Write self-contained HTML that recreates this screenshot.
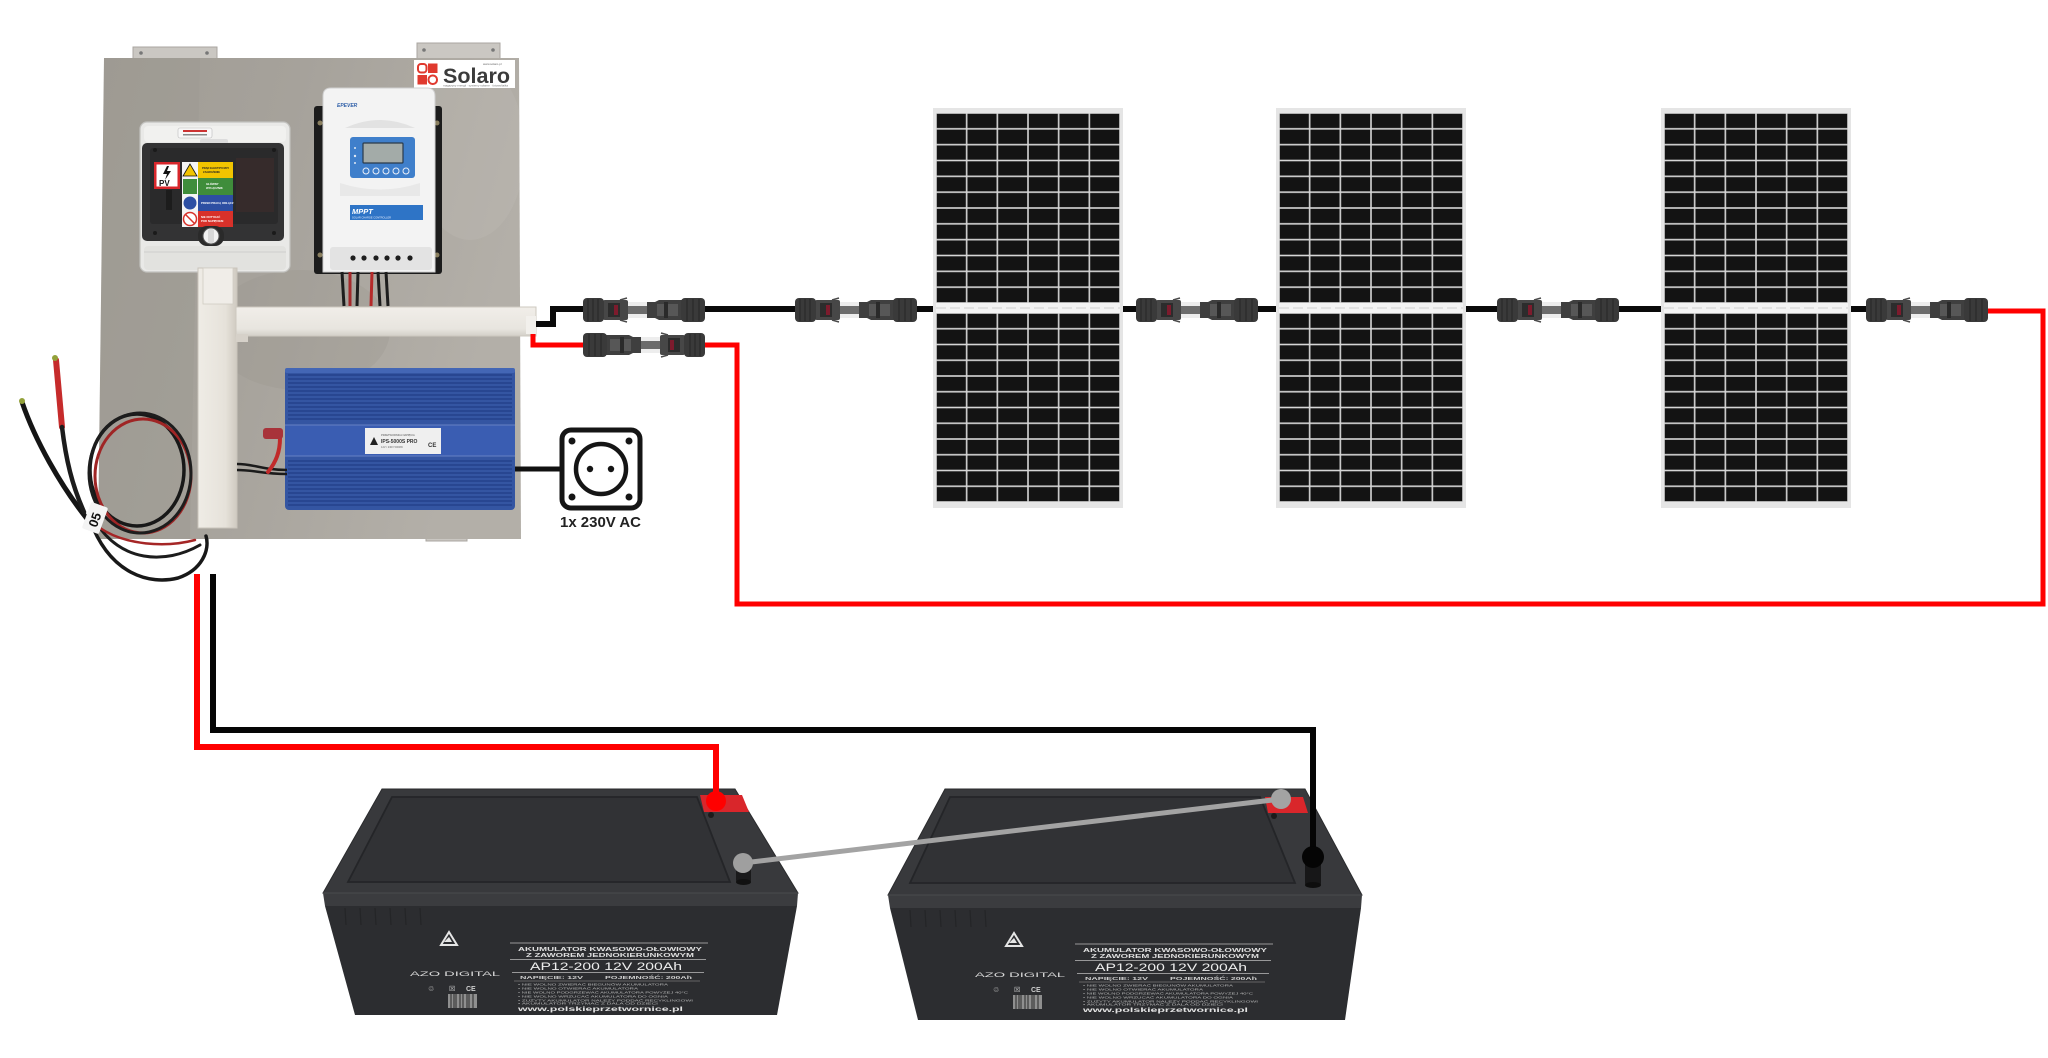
<!DOCTYPE html>
<html>
<head>
<meta charset="utf-8">
<style>
  html,body{margin:0;padding:0;background:#fff;}
  body{width:2048px;height:1058px;overflow:hidden;}
  svg{display:block;}
  text{font-family:"Liberation Sans", sans-serif;}
</style>
</head>
<body>
<svg width="2048" height="1058" viewBox="0 0 2048 1058" xmlns="http://www.w3.org/2000/svg">
  <defs>
    <linearGradient id="plateG" x1="0" y1="0" x2="1" y2="0.3">
      <stop offset="0" stop-color="#a09c95"/>
      <stop offset="0.45" stop-color="#a6a29b"/>
      <stop offset="1" stop-color="#b3afa8"/>
    </linearGradient>
    <clipPath id="plateClip">
      <polygon points="104,58 519,58 521,539 98,539"/>
    </clipPath>
    <linearGradient id="trunkV" x1="0" y1="0" x2="1" y2="0">
      <stop offset="0" stop-color="#efece6"/>
      <stop offset="0.7" stop-color="#e6e2da"/>
      <stop offset="1" stop-color="#cfcac1"/>
    </linearGradient>
    <linearGradient id="trunkH" x1="0" y1="0" x2="0" y2="1">
      <stop offset="0" stop-color="#f1eee9"/>
      <stop offset="0.75" stop-color="#e8e5df"/>
      <stop offset="1" stop-color="#d3cfc8"/>
    </linearGradient>
    <pattern id="cellsA" patternUnits="userSpaceOnUse" x="3" y="5" width="30.667" height="15.833">
      <rect width="30.667" height="15.833" fill="#d6d6d6"/>
      <rect x="0.8" y="0.8" width="29.07" height="14.23" fill="#131313"/>
    </pattern>
    <pattern id="cellsB" patternUnits="userSpaceOnUse" x="3" y="205" width="30.667" height="15.75">
      <rect width="30.667" height="15.75" fill="#d6d6d6"/>
      <rect x="0.8" y="0.8" width="29.07" height="14.15" fill="#131313"/>
    </pattern>
    <g id="panel">
      <rect x="0" y="0" width="190" height="400" fill="#e5e5e5"/>
      <rect x="3" y="5" width="184" height="190" fill="url(#cellsA)"/>
      <rect x="3" y="195" width="184" height="10" fill="#f3f3f3"/>
      <line x1="3" y1="200" x2="187" y2="200" stroke="#cfcfcf" stroke-width="1" stroke-dasharray="10 4"/>
      <rect x="3" y="205" width="184" height="189" fill="url(#cellsB)"/>
    </g>
    <g id="conn">
      <rect x="43" y="-8" width="26" height="16" fill="#ededed"/>
      <rect x="20" y="-10" width="25" height="20" rx="2" fill="#474747"/>
      <rect x="25" y="-7" width="12" height="14" fill="#2c2c2c"/>
      <rect x="31" y="-5" width="4" height="10" fill="#7d1b2d"/>
      <path d="M37 -10 l7 -2 M37 10 l7 2" stroke="#4a4a4a" stroke-width="1.5"/>
      <rect x="45" y="-4" width="21" height="8" fill="#6c6c6c"/>
      <path d="M64 -8 H72 L76 -10 H99 V10 H76 L72 8 H64 Z" fill="#3f3f3f"/>
      <rect x="74" y="-6" width="21" height="12" fill="#575757"/>
      <rect x="81" y="-8" width="4" height="16" fill="#2a2a2a"/>
      <rect x="0" y="-12" width="21" height="24" rx="4" fill="#3a3a3a"/>
      <path d="M5 -11 V11 M10 -11 V11 M15 -11 V11" stroke="#2a2a2a" stroke-width="1.2"/>
      <rect x="98" y="-12" width="24" height="24" rx="4" fill="#3a3a3a"/>
      <path d="M104 -11 V11 M110 -11 V11 M116 -11 V11" stroke="#2a2a2a" stroke-width="1.2"/>
    </g>
    <g id="batlabel">
      <polygon points="441,945 449,932 457,945" fill="none" stroke="#e6e6e6" stroke-width="2"/>
      <polygon points="444,942 452,942 449,937" fill="#e6e6e6"/>
      <text x="410" y="976" font-size="6" fill="#d8d8d8" textLength="90" lengthAdjust="spacingAndGlyphs">AZO DIGITAL</text>
      <text x="428" y="991" font-size="7" fill="#cfcfcf">♲</text>
      <text x="449" y="991" font-size="7" fill="#cfcfcf">☒</text>
      <text x="466" y="991" font-size="7" fill="#cfcfcf" font-weight="bold">CE</text>
      <rect x="448" y="994" width="29" height="14" fill="#8f8f8f"/>
      <path d="M451 994 V1008 M454 994 V1008 M456 994 V1008 M460 994 V1008 M463 994 V1008 M467 994 V1008 M469 994 V1008 M473 994 V1008" stroke="#3a3a3a" stroke-width="1.2"/>
      <line x1="510" y1="943" x2="708" y2="943" stroke="#bdbdbd" stroke-width="0.8"/>
      <text x="518" y="951" font-size="5.5" fill="#e0e0e0" font-weight="bold" textLength="184" lengthAdjust="spacingAndGlyphs">AKUMULATOR KWASOWO-OŁOWIOWY</text>
      <text x="526" y="957" font-size="5.5" fill="#e0e0e0" font-weight="bold" textLength="168" lengthAdjust="spacingAndGlyphs">Z ZAWOREM JEDNOKIERUNKOWYM</text>
      <line x1="510" y1="959.5" x2="706" y2="959.5" stroke="#bdbdbd" stroke-width="0.8"/>
      <text x="530" y="970" font-size="11" fill="#ededed" textLength="152" lengthAdjust="spacingAndGlyphs">AP12-200 12V 200Ah</text>
      <line x1="512" y1="972.5" x2="704" y2="972.5" stroke="#bdbdbd" stroke-width="0.8"/>
      <text x="520" y="979" font-size="4.5" fill="#d0d0d0" font-weight="bold" textLength="63" lengthAdjust="spacingAndGlyphs">NAPIĘCIE: 12V</text>
      <text x="605" y="979" font-size="4.5" fill="#d0d0d0" font-weight="bold" textLength="87" lengthAdjust="spacingAndGlyphs">POJEMNOŚĆ: 200Ah</text>
      <line x1="514" y1="981" x2="700" y2="981" stroke="#9a9a9a" stroke-width="0.6"/>
      <text x="518" y="985.5" font-size="3" fill="#bdbdbd" textLength="150" lengthAdjust="spacingAndGlyphs">• NIE WOLNO ZWIERAĆ BIEGUNÓW AKUMULATORA</text>
      <text x="518" y="989.5" font-size="3" fill="#bdbdbd" textLength="120" lengthAdjust="spacingAndGlyphs">• NIE WOLNO OTWIERAĆ AKUMULATORA</text>
      <text x="518" y="993.5" font-size="3" fill="#bdbdbd" textLength="170" lengthAdjust="spacingAndGlyphs">• NIE WOLNO PODGRZEWAĆ AKUMULATORA POWYŻEJ 40°C</text>
      <text x="518" y="997.5" font-size="3" fill="#bdbdbd" textLength="150" lengthAdjust="spacingAndGlyphs">• NIE WOLNO WRZUCAĆ AKUMULATORA DO OGNIA</text>
      <text x="518" y="1001.5" font-size="3" fill="#bdbdbd" textLength="175" lengthAdjust="spacingAndGlyphs">• ZUŻYTY AKUMULATOR NALEŻY PODDAĆ RECYKLINGOWI</text>
      <text x="518" y="1004.5" font-size="3" fill="#bdbdbd" textLength="140" lengthAdjust="spacingAndGlyphs">• AKUMULATOR TRZYMAĆ Z DALA OD DZIECI</text>
      <text x="518" y="1011" font-size="6.5" fill="#e2e2e2" font-weight="bold" textLength="165" lengthAdjust="spacingAndGlyphs">www.polskieprzetwornice.pl</text>
    </g>
  </defs>

  <rect width="2048" height="1058" fill="#ffffff"/>

  <!-- ================= BACKPLATE ================= -->
  <rect x="133" y="47" width="84" height="13" fill="#cac7c2" stroke="#a9a6a0" stroke-width="1"/>
  <circle cx="141" cy="53" r="1.8" fill="#777"/><circle cx="207" cy="53" r="1.8" fill="#777"/>
  <rect x="417" y="43" width="83" height="17" fill="#cac7c2" stroke="#a9a6a0" stroke-width="1"/>
  <circle cx="424" cy="50" r="1.8" fill="#777"/><circle cx="493" cy="50" r="1.8" fill="#777"/>
  <rect x="426" y="528" width="41" height="13" fill="#cac7c2" stroke="#a9a6a0" stroke-width="1"/>
  <circle cx="432" cy="536" r="1.8" fill="#777"/><circle cx="461" cy="536" r="1.8" fill="#777"/>
  <polygon points="104,58 519,58 521,539 98,539" fill="url(#plateG)"/>
  <g clip-path="url(#plateClip)">
    <polygon points="104,58 200,58 190,539 98,539" fill="#9b978f" opacity="0.35"/>
    <ellipse cx="470" cy="150" rx="55" ry="90" fill="#c0bcb5" opacity="0.3"/>
    <ellipse cx="300" cy="330" rx="90" ry="60" fill="#98938b" opacity="0.25"/>
  </g>

  <!-- Solaro logo -->
  <rect x="414" y="60" width="101" height="28" fill="#ffffff"/>
  <rect x="418" y="64" width="8.5" height="8.5" rx="3" fill="none" stroke="#e0392e" stroke-width="2"/>
  <rect x="428" y="63.5" width="9.5" height="9.5" fill="#e0392e"/>
  <rect x="417.5" y="75" width="9.5" height="9.5" fill="#e0392e"/>
  <rect x="428.5" y="75.5" width="8.5" height="8.5" rx="4" fill="none" stroke="#e0392e" stroke-width="2"/>
  <text x="443" y="83" font-size="21" font-weight="bold" fill="#3b3b3b" textLength="67" lengthAdjust="spacingAndGlyphs">Solaro</text>
  <text x="483" y="65" font-size="3" fill="#666">www.solaro.pl</text>
  <text x="443" y="86.5" font-size="2.5" fill="#777" textLength="65" lengthAdjust="spacingAndGlyphs">magazyny energii · systemy solarne · fotowoltaika</text>

  <!-- DC isolator box -->
  <rect x="140" y="122" width="150" height="150" rx="7" fill="#e9e9e7" stroke="#c2c2bf" stroke-width="1.2"/>
  <rect x="144" y="126" width="142" height="16" rx="4" fill="#f1f1ef"/>
  <rect x="178" y="128" width="34" height="10" rx="2" fill="#f7f7f7" stroke="#bbb" stroke-width="0.6"/>
  <rect x="183" y="130" width="24" height="2" fill="#c33"/>
  <rect x="183" y="134" width="24" height="1.5" fill="#888"/>
  <rect x="200" y="139" width="28" height="6" rx="2" fill="#dcdcdc"/>
  <rect x="142" y="143" width="142" height="98" rx="5" fill="#333334"/>
  <rect x="150" y="148" width="128" height="76" rx="3" fill="#2a2a2b"/>
  <rect x="236" y="158" width="38" height="54" fill="#3a2c2c" opacity="0.8"/>
  <rect x="166" y="190" width="6" height="20" fill="#1c1c1c"/>
  <rect x="154" y="162" width="26" height="27" fill="#d7262b"/>
  <rect x="156.5" y="164.5" width="21" height="22" fill="#ffffff"/>
  <path d="M167 166 L163 174 H167 L165 180 L171 171 H167 L169 166 Z" fill="#111"/>
  <text x="159" y="186" font-size="8" font-weight="bold" fill="#111">PV</text>
  <rect x="182" y="162" width="16" height="65" fill="#f4f4f4"/>
  <rect x="198" y="162" width="35" height="16" fill="#f2c400"/>
  <rect x="198" y="178" width="35" height="17" fill="#3f8d3b"/>
  <rect x="198" y="195" width="35" height="16" fill="#2d4fa3"/>
  <rect x="198" y="211" width="35" height="16" fill="#d8312a"/>
  <polygon points="190,164 183,176 197,176" fill="#f2c400" stroke="#111" stroke-width="0.8"/>
  <rect x="183" y="179" width="14" height="15" fill="#3f8d3b"/>
  <circle cx="190" cy="203" r="6.5" fill="#2d4fa3"/>
  <circle cx="190" cy="219" r="6.5" fill="#fff" stroke="#d8312a" stroke-width="1.5"/>
  <line x1="185.5" y1="214.5" x2="194.5" y2="223.5" stroke="#d8312a" stroke-width="1.5"/>
  <g fill="#222" font-size="2.6" font-weight="bold">
    <text x="202" y="169">PRĄD ELEKTRYCZNY</text><text x="203" y="173">ZAGROŻENIE</text>
  </g>
  <g fill="#fff" font-size="2.8" font-weight="bold">
    <text x="206" y="185">GŁÓWNY</text><text x="206" y="189">WYŁĄCZNIK</text>
    <text x="201" y="204">PRZED PRACĄ ODŁĄCZ</text>
    <text x="201" y="218">NIE DOTYKAĆ</text><text x="201" y="222">POD NAPIĘCIEM</text>
  </g>
  <circle cx="155" cy="150" r="2" fill="#1a1a1a"/><circle cx="274" cy="150" r="2" fill="#1a1a1a"/>
  <circle cx="155" cy="233" r="2" fill="#1a1a1a"/><circle cx="274" cy="233" r="2" fill="#1a1a1a"/>
  <rect x="198" y="226" width="26" height="20" rx="9" fill="#2a2a2a"/>
  <circle cx="211" cy="236" r="8" fill="#f2f2f2" stroke="#555" stroke-width="1"/>
  <rect x="208" y="229" width="6" height="14" rx="2" fill="#d8d8d8"/>
  <rect x="144" y="246" width="142" height="24" rx="4" fill="#e2e2df"/>
  <line x1="144" y1="252" x2="286" y2="252" stroke="#cfcfcc" stroke-width="1"/>

  <!-- MPPT controller -->
  <rect x="314" y="106" width="128" height="168" rx="3" fill="#1c1c1c"/>
  <circle cx="320" cy="123" r="2.5" fill="#8a7f5f"/><circle cx="437" cy="123" r="2.5" fill="#8a7f5f"/>
  <circle cx="320" cy="255" r="2.5" fill="#8a7f5f"/><circle cx="437" cy="255" r="2.5" fill="#8a7f5f"/>
  <path d="M331 88 H427 Q435 88 435 96 V272 H323 V96 Q323 88 331 88 Z" fill="#f3f3f3" stroke="#cfcfcf" stroke-width="1"/>
  <path d="M345 128 Q380 112 415 128 Z" fill="#e2e2e2"/>
  <text x="337" y="107" font-size="5" font-weight="bold" font-style="italic" fill="#2f5fa8">EPEVER</text>
  <rect x="350" y="137" width="65" height="41" rx="3" fill="#3f7fcb"/>
  <rect x="363" y="143" width="40" height="20" rx="1" fill="#a3aba8" stroke="#2a3a4a" stroke-width="1.2"/>
  <g fill="none" stroke="#e8eef8" stroke-width="1">
    <circle cx="366" cy="171" r="3"/><circle cx="376" cy="171" r="3"/><circle cx="386" cy="171" r="3"/><circle cx="396" cy="171" r="3"/><circle cx="406" cy="171" r="3"/>
  </g>
  <circle cx="355" cy="148" r="1" fill="#dfe8f5"/><circle cx="355" cy="156" r="1.2" fill="#dfe8f5"/><circle cx="355" cy="163" r="1" fill="#dfe8f5"/>
  <path d="M340 183 Q380 196 420 183 V196 H340 Z" fill="#e8e8e8"/>
  <rect x="350" y="205" width="73" height="15" fill="#2e74c6"/>
  <text x="352" y="214" font-size="7.5" font-weight="bold" font-style="italic" fill="#ffffff">MPPT</text>
  <text x="352" y="218.5" font-size="2.6" fill="#e6efff">SOLAR CHARGE CONTROLLER</text>
  <rect x="330" y="247" width="102" height="23" rx="3" fill="#e3e3e3"/>
  <g fill="#1d1d1d">
    <circle cx="353" cy="258" r="2.6"/><circle cx="364" cy="258" r="2.6"/><circle cx="376" cy="258" r="2.6"/><circle cx="387" cy="258" r="2.6"/><circle cx="398" cy="258" r="2.6"/><circle cx="410" cy="258" r="2.6"/>
  </g>
  <g stroke-width="3" fill="none">
    <path d="M342 272 L344 306" stroke="#1d1d1d"/>
    <path d="M350 272 L350 306" stroke="#a3282a"/>
    <path d="M358 272 L357 306" stroke="#1d1d1d"/>
    <path d="M372 272 L371 306" stroke="#b52a2a"/>
    <path d="M378 272 L380 306" stroke="#1d1d1d"/>
    <path d="M386 272 L388 306" stroke="#1d1d1d"/>
  </g>

  <!-- Trunking -->
  <rect x="198" y="268" width="39" height="260" fill="url(#trunkV)" stroke="#c9c4bb" stroke-width="1"/>
  <rect x="203" y="268" width="30" height="36" fill="#f0ede8" stroke="#d0cbc2" stroke-width="0.8"/>
  <rect x="236" y="307" width="300" height="29" fill="url(#trunkH)" stroke="#cdc8bf" stroke-width="1"/>
  <rect x="236" y="334" width="12" height="8" fill="#d6d1c9"/>

  <!-- Inverter -->
  <rect x="285" y="368" width="230" height="142" rx="4" fill="#3455a2"/>
  <g stroke="#24428b" stroke-width="1.6">
    <line x1="288" y1="375" x2="512" y2="375"/><line x1="288" y1="379" x2="512" y2="379"/>
    <line x1="288" y1="383" x2="512" y2="383"/><line x1="288" y1="387" x2="512" y2="387"/>
    <line x1="288" y1="391" x2="512" y2="391"/><line x1="288" y1="395" x2="512" y2="395"/>
    <line x1="288" y1="399" x2="512" y2="399"/><line x1="288" y1="403" x2="512" y2="403"/>
    <line x1="288" y1="407" x2="512" y2="407"/><line x1="288" y1="411" x2="512" y2="411"/>
    <line x1="288" y1="415" x2="512" y2="415"/><line x1="288" y1="419" x2="512" y2="419"/>
    <line x1="288" y1="461" x2="512" y2="461"/><line x1="288" y1="465" x2="512" y2="465"/>
    <line x1="288" y1="469" x2="512" y2="469"/><line x1="288" y1="473" x2="512" y2="473"/>
    <line x1="288" y1="477" x2="512" y2="477"/><line x1="288" y1="481" x2="512" y2="481"/>
    <line x1="288" y1="485" x2="512" y2="485"/><line x1="288" y1="489" x2="512" y2="489"/>
    <line x1="288" y1="493" x2="512" y2="493"/><line x1="288" y1="497" x2="512" y2="497"/>
    <line x1="288" y1="501" x2="512" y2="501"/><line x1="288" y1="505" x2="512" y2="505"/>
  </g>
  <rect x="285" y="368" width="230" height="5" rx="2" fill="#4366b5"/>
  <rect x="285" y="425" width="230" height="31" fill="#3a5db2"/>
  <line x1="285" y1="425" x2="515" y2="425" stroke="#6681c4" stroke-width="1"/>
  <line x1="285" y1="456" x2="515" y2="456" stroke="#6681c4" stroke-width="1"/>
  <rect x="365" y="428" width="76" height="26" fill="#efefef"/>
  <polygon points="370,445 374,437 378,445" fill="#222"/>
  <text x="381" y="436" font-size="2.6" fill="#555">PRZETWORNICA NAPIĘCIA</text>
  <text x="381" y="443" font-size="5" font-weight="bold" fill="#333">IPS-5000S PRO</text>
  <text x="381" y="448" font-size="2.6" fill="#666">12V / 230V  5000W</text>
  <text x="428" y="447" font-size="6" font-weight="bold" fill="#333">CE</text>
  <path d="M237 464 C255 464 262 470 287 470" stroke="#1b1b1b" stroke-width="2.5" fill="none"/>
  <path d="M237 470 C255 470 262 474 287 474" stroke="#1b1b1b" stroke-width="2.5" fill="none"/>
  <path d="M280 438 C280 452 276 462 268 472" stroke="#c12a2a" stroke-width="4" fill="none" stroke-linecap="round"/>
  <rect x="263" y="428" width="20" height="11" rx="3" fill="#a8333a"/>

  <!-- AC socket -->
  <line x1="515" y1="469" x2="562" y2="469" stroke="#111" stroke-width="5"/>
  <rect x="562" y="430" width="78" height="78" rx="9" fill="#ffffff" stroke="#151515" stroke-width="5"/>
  <circle cx="601" cy="469" r="25" fill="none" stroke="#151515" stroke-width="4.5"/>
  <circle cx="590" cy="469" r="3.2" fill="#151515"/><circle cx="611" cy="469" r="3.2" fill="#151515"/>
  <circle cx="572" cy="441" r="3.5" fill="#151515"/><circle cx="629" cy="441" r="3.5" fill="#151515"/>
  <circle cx="572" cy="497" r="3.5" fill="#151515"/><circle cx="629" cy="497" r="3.5" fill="#151515"/>
  <text x="560" y="527" font-size="15" font-weight="bold" fill="#222" textLength="81" lengthAdjust="spacingAndGlyphs">1x 230V AC</text>

  <!-- Battery cable coil -->
  <g fill="none" stroke-linecap="round">
    <path d="M22 402 C35 440 60 485 88 520" stroke="#151515" stroke-width="5"/>
    <path d="M56 360 L62 427" stroke="#c62b2b" stroke-width="6"/>
    <path d="M62 427 C66 460 72 485 84 512" stroke="#1c1c1c" stroke-width="4.5"/>
    <ellipse cx="137" cy="470" rx="47" ry="56" stroke="#181818" stroke-width="3.5"/>
    <ellipse cx="143" cy="476" rx="48" ry="57" stroke="#9f2525" stroke-width="3"/>
    <ellipse cx="140" cy="473" rx="51" ry="60" stroke="#1d1d1d" stroke-width="3"/>
    <path d="M90 520 C110 575 150 585 178 578 C202 570 210 550 206 536" stroke="#181818" stroke-width="3.5"/>
    <path d="M96 522 C120 562 165 565 200 545" stroke="#1c1c1c" stroke-width="3"/>
    <path d="M100 528 C125 545 165 548 195 540" stroke="#a52626" stroke-width="2.5"/>
  </g>
  <circle cx="22" cy="401" r="3" fill="#93a13a"/>
  <circle cx="55" cy="358" r="3" fill="#93a13a"/>
  <g transform="translate(95,518) rotate(-70)">
    <rect x="-14" y="-9" width="28" height="18" rx="2" fill="#f4f4f4"/>
    <text x="-9" y="5" font-size="13" font-weight="bold" fill="#111">05</text>
  </g>

  <!-- ================= PV CABLES ================= -->
  <g fill="none" stroke-linejoin="miter">
    <path d="M533 324 H553 V309 H585" stroke="#0a0a0a" stroke-width="6"/>
    <path d="M704 309 H797" stroke="#0a0a0a" stroke-width="6"/>
    <path d="M915 309 H936" stroke="#0a0a0a" stroke-width="6"/>
    <path d="M1121 309 H1138" stroke="#0a0a0a" stroke-width="6"/>
    <path d="M1257 309 H1278" stroke="#0a0a0a" stroke-width="6"/>
    <path d="M1464 309 H1499" stroke="#0a0a0a" stroke-width="6"/>
    <path d="M1617 309 H1663" stroke="#0a0a0a" stroke-width="6"/>
    <path d="M1848 309 H1868" stroke="#0a0a0a" stroke-width="6"/>
    <path d="M533 331 V345 H585" stroke="#ff0000" stroke-width="5"/>
    <path d="M703 345 H737 V604 H2043 V311 H1985" stroke="#ff0000" stroke-width="5"/>
  </g>
  <rect x="526" y="316" width="10" height="18" fill="#f2f0ec"/>

  <use href="#conn" transform="translate(583,310)"/>
  <use href="#conn" transform="translate(705,345) scale(-1,1)"/>
  <use href="#conn" transform="translate(795,310)"/>
  <use href="#conn" transform="translate(1136,310)"/>
  <use href="#conn" transform="translate(1497,310)"/>
  <use href="#conn" transform="translate(1866,310)"/>

  <use href="#panel" transform="translate(933,108)"/>
  <use href="#panel" transform="translate(1276,108)"/>
  <use href="#panel" transform="translate(1661,108)"/>

  <!-- ================= BATTERIES ================= -->
  <polygon points="382,789 735,789 798,893 323,893" fill="#38393c" stroke="#2a2b2d" stroke-width="1"/>
  <polygon points="392,797 697,797 730,882 348,882" fill="#313235" stroke="#242528" stroke-width="1.8"/>
  <polygon points="323,893 798,893 797,906 325,906" fill="#3b3c3f"/>
  <line x1="323" y1="893" x2="798" y2="893" stroke="#4a4b4e" stroke-width="1"/>
  <polygon points="325,906 797,906 777,1015 355,1015" fill="#2c2d30"/>
  <g stroke="#242527" stroke-width="1.2">
    <line x1="345" y1="908" x2="346" y2="925"/><line x1="360" y1="908" x2="361" y2="925"/>
    <line x1="375" y1="908" x2="376" y2="925"/><line x1="390" y1="908" x2="391" y2="925"/>
    <line x1="405" y1="908" x2="406" y2="925"/><line x1="420" y1="908" x2="421" y2="925"/>
  </g>
  <polygon points="700,795 742,795 749,812 704,812" fill="#d9262b"/>
  <circle cx="711" cy="815" r="3" fill="#1b1b1b"/>
  <rect x="736" y="858" width="15" height="24" rx="2" fill="#1a1a1b"/>
  <ellipse cx="743.5" cy="882" rx="7.5" ry="3" fill="#111"/>
  <use href="#batlabel"/>

  <polygon points="945,789 1305,789 1362,895 888,895" fill="#38393c" stroke="#2a2b2d" stroke-width="1"/>
  <polygon points="950,797 1260,797 1295,883 910,883" fill="#313235" stroke="#242528" stroke-width="1.8"/>
  <polygon points="888,895 1362,895 1361,908 890,908" fill="#3b3c3f"/>
  <line x1="888" y1="895" x2="1362" y2="895" stroke="#4a4b4e" stroke-width="1"/>
  <polygon points="890,908 1361,908 1345,1020 918,1020" fill="#2c2d30"/>
  <g stroke="#242527" stroke-width="1.2">
    <line x1="910" y1="910" x2="911" y2="927"/><line x1="925" y1="910" x2="926" y2="927"/>
    <line x1="940" y1="910" x2="941" y2="927"/><line x1="955" y1="910" x2="956" y2="927"/>
    <line x1="970" y1="910" x2="971" y2="927"/><line x1="985" y1="910" x2="986" y2="927"/>
  </g>
  <polygon points="1265,797 1303,797 1308,813 1268,813" fill="#d9262b"/>
  <circle cx="1274" cy="816" r="3" fill="#1b1b1b"/>
  <rect x="1305" y="858" width="16" height="27" rx="2" fill="#171718"/>
  <ellipse cx="1313" cy="885" rx="8" ry="3" fill="#0e0e0e"/>
  <g transform="translate(565,1)"><use href="#batlabel"/></g>

  <line x1="743" y1="863" x2="1281" y2="799" stroke="#a3a3a3" stroke-width="5"/>
  <circle cx="743" cy="863" r="10" fill="#9f9f9f"/>
  <circle cx="1281" cy="799" r="10" fill="#a3a3a3"/>

  <path d="M197 574 V747 H716 V800" fill="none" stroke="#ff0000" stroke-width="6"/>
  <circle cx="716" cy="801" r="10" fill="#ff0000"/>
  <path d="M213 574 V730 H1313 V856" fill="none" stroke="#050505" stroke-width="6"/>
  <circle cx="1313" cy="857" r="11" fill="#050505"/>
</svg>
</body>
</html>
